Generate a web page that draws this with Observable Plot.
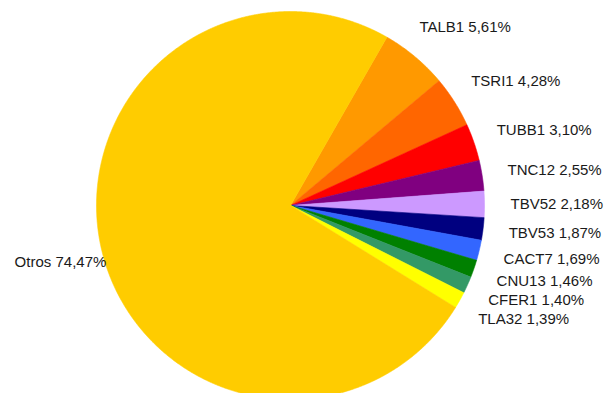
<!DOCTYPE html>
<html>
<head>
<meta charset="utf-8">
<script src="https://cdn.jsdelivr.net/npm/d3@7"></script>
<script src="https://cdn.jsdelivr.net/npm/@observablehq/plot@0.6"></script>
<style>
  html, body { margin: 0; padding: 0; background: #fff; }
  #chart svg { display: block; }
</style>
</head>
<body>
<div id="chart"></div>
<script>
// Data (percentages)
const names = ["TALB1", "TSRI1", "TUBB1", "TNC12", "TBV52", "TBV53", "CACT7", "CNU13", "CFER1", "TLA32", "Otros"];
const values = [5.61, 4.28, 3.10, 2.55, 2.18, 1.87, 1.69, 1.46, 1.40, 1.39, 74.47];
const colors = ["#ff9900", "#ff6600", "#ff0000", "#800080", "#cc99ff", "#000080", "#3366ff", "#008000", "#339966", "#ffff00", "#ffcc00"];

// Layout constants (pixels)
const W = 605, H = 393;
const CX = 290, CY = 205, R = 194;
const START = 29.8 * Math.PI / 180;

const total = d3.sum(values);
let acc = START;
const slices = names.map((name, i) => {
  const a0 = acc;
  const a1 = acc + values[i] / total * 2 * Math.PI;
  acc = a1;
  return {name, value: values[i], a0, a1, mid: (a0 + a1) / 2};
});

// Polygon vertices for each slice (y up, angle clockwise from north)
const pts = [];
for (const s of slices) {
  pts.push({name: s.name, x: 0, y: 0});
  const n = Math.max(2, Math.ceil((s.a1 - s.a0) / (0.25 * Math.PI / 180)));
  for (let k = 0; k <= n; k++) {
    const a = s.a0 + (s.a1 - s.a0) * k / n;
    pts.push({name: s.name, x: R * Math.sin(a), y: R * Math.cos(a)});
  }
  pts.push({name: s.name, x: 0, y: 0});
}

const fmt = v => v.toFixed(2).replace(".", ",") + "%";
const lab = slices.map(s => {
  const sn = Math.sin(s.mid), cs = Math.cos(s.mid);
  const right = sn >= 0;
  return {
    right,
    text: `${s.name} ${fmt(s.value)}`,
    x: right ? 254 * sn - 34 : 190 * sn,
    y: 232 * cs
  };
});

const chart = Plot.plot({
  width: W,
  height: H,
  margin: 0,
  x: {domain: [-CX, W - CX], axis: null},
  y: {domain: [-(H - CY), CY], axis: null},
  color: {domain: names, range: colors},
  style: {fontFamily: "'Liberation Sans', Arial, sans-serif", background: "#fff"},
  marks: [
    Plot.line(pts, {x: "x", y: "y", z: "name", fill: "name", stroke: "name", strokeWidth: 0.6, curve: "linear"}),
    Plot.text(lab.filter(d => d.right), {x: "x", y: "y", text: "text", textAnchor: "start", lineAnchor: "middle", fontSize: 15, fill: "#1a1a1a"}),
    Plot.text(lab.filter(d => !d.right), {x: "x", y: "y", text: "text", textAnchor: "end", lineAnchor: "middle", fontSize: 15, fill: "#1a1a1a"})
  ]
});
document.getElementById("chart").appendChild(chart);
</script>
</body>
</html>
